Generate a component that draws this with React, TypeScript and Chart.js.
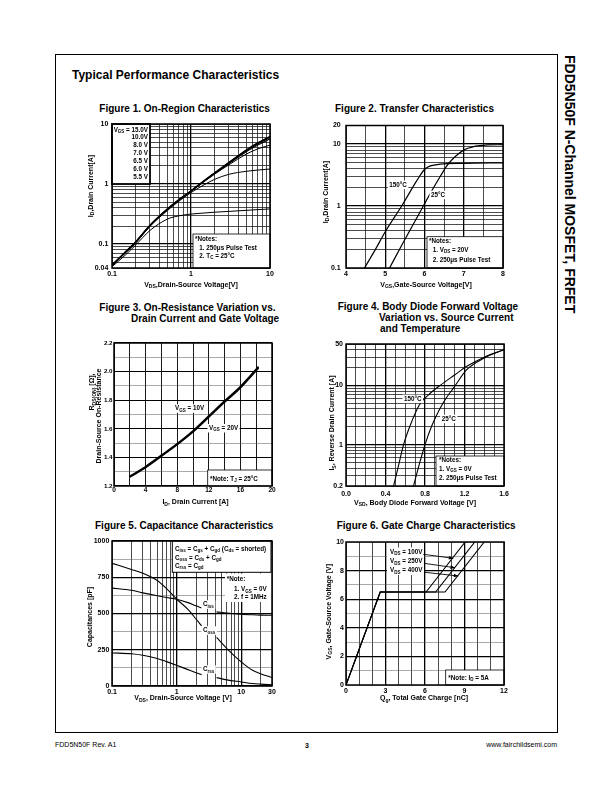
import React, { useEffect, useRef } from "react";
import { Chart, registerables } from "chart.js";
Chart.register(...registerables);

const FONT = '"Liberation Sans", Arial, Helvetica, sans-serif';
const ML = 50, MT = 8, MR = 10, MB = 24;

// ---------------- Figure 1: On-Region Characteristics ----------------
const F1_VDS = [0.1, 0.15, 0.2, 0.3, 0.5, 0.7, 1, 1.5, 2, 3, 5, 7, 10];
const F1_ID_15V = [0.045, 0.076, 0.11, 0.205, 0.385, 0.55, 0.775, 1.17, 1.55, 2.28, 3.7, 4.85, 6.25];
const F1_ID_10V = [0.045, 0.075, 0.109, 0.203, 0.382, 0.547, 0.77, 1.16, 1.54, 2.26, 3.66, 4.8, 6.15];
const F1_ID_8V = [0.044, 0.074, 0.108, 0.201, 0.378, 0.542, 0.765, 1.15, 1.52, 2.22, 3.58, 4.66, 5.95];
const F1_ID_7V = [0.044, 0.074, 0.107, 0.2, 0.375, 0.538, 0.76, 1.14, 1.5, 2.17, 3.45, 4.45, 5.65];
const F1_ID_6V5 = [0.044, 0.073, 0.106, 0.198, 0.372, 0.533, 0.752, 1.12, 1.47, 2.08, 3.15, 3.85, 4.45];
const F1_ID_6V = [0.044, 0.073, 0.105, 0.195, 0.36, 0.515, 0.72, 0.99, 1.2, 1.45, 1.63, 1.71, 1.78];
const F1_ID_5V5 = [0.042, 0.067, 0.097, 0.167, 0.26, 0.295, 0.316, 0.33, 0.34, 0.35, 0.365, 0.375, 0.385];
const F1_X_LABELS = [0.1, 1, 10];
const F1_Y_LABELS = [0.04, 0.1, 1, 10];
const F1_LEGEND = ["V_{GS} = 15.0V", "10.0V", "8.0 V", "7.0 V", "6.5 V", "6.0 V", "5.5 V"];

// ---------------- Figure 2: Transfer Characteristics ----------------
const F2_VGS_150C = [4.47, 4.75, 5.0, 5.43, 5.8, 6.0, 6.15, 6.4, 7.0, 8.0];
const F2_ID_150C = [0.1, 0.2, 0.385, 1.03, 2.55, 3.9, 4.45, 4.75, 4.9, 5.0];
const F2_VGS_25C = [5.11, 5.43, 5.98, 6.2, 6.4, 6.55, 6.7, 7.0, 7.3, 7.6, 8.0];
const F2_ID_25C = [0.1, 0.24, 1.03, 1.83, 3.0, 4.3, 5.6, 8.0, 9.3, 9.7, 9.8];
const F2_X_LABELS = [4, 5, 6, 7, 8];
const F2_Y_LABELS = [0.1, 1, 10, 20];

// ---------------- Figure 3: On-Resistance ----------------
const F3_ID = [2, 4, 6, 8, 10, 12, 14, 16, 18.3];
const F3_R_10V = [1.268, 1.336, 1.415, 1.496, 1.586, 1.69, 1.795, 1.895, 2.035];
const F3_R_20V = [1.262, 1.329, 1.408, 1.489, 1.578, 1.681, 1.786, 1.886, 2.025];
const F3_X_LABELS = [0, 4, 8, 12, 16, 20];
const F3_Y_LABELS = [1.2, 1.4, 1.6, 1.8, 2.0, 2.2];

// ---------------- Figure 4: Body Diode ----------------
const F4_VSD_150C = [0.482, 0.53, 0.583, 0.65, 0.744, 0.85, 0.953, 1.1, 1.223, 1.4, 1.6];
const F4_IS_150C = [0.2, 0.43, 1.0, 2.1, 4.7, 7.3, 10, 15, 21, 30, 40];
const F4_VSD_25C = [0.684, 0.74, 0.8, 0.87, 0.953, 1.02, 1.088, 1.223, 1.4, 1.6];
const F4_IS_25C = [0.2, 0.45, 1.0, 2.1, 4.1, 6.3, 9.0, 18.4, 29, 40];
const F4_X_LABELS = [0, 0.4, 0.8, 1.2, 1.6];
const F4_Y_LABELS = [0.2, 1, 10, 50];

// ---------------- Figure 5: Capacitance ----------------
const F5_VDS = [0.1, 0.2, 0.3, 0.5, 0.7, 1, 1.5, 2, 2.44, 3.2, 4.16, 6, 10, 15, 20, 30];
const F5_CISS = [675, 660, 642, 622, 610, 598, 575, 553, 538, null, 511, 503, 495, 491, 489, 488];
const F5_COSS = [846, 804, 778, 728, 672, 600, 528, 462, 415, null, 335, 258, 166, 108, 85, 58];
const F5_CRSS = [228, 222, 212, 190, 168, 143, 113, 92, 78, null, 58, 42, 28, 17, 13, 9];
const F5_X_LABELS = [0.1, 1, 10, 30];
const F5_Y_LABELS = [0, 250, 500, 750, 1000];

// ---------------- Figure 6: Gate Charge ----------------
const F6_VGS = [0, 6.5, 6.5, 10];
const F6_QG_100V = [0, 2.6, 6.08, 9.05];
const F6_QG_250V = [0, 2.6, 6.81, 9.78];
const F6_QG_400V = [0, 2.6, 7.52, 10.5];
const F6_X_LABELS = [0, 3, 6, 9, 12];
const F6_Y_LABELS = [0, 2, 4, 6, 8, 10];

// ---------------- helpers ----------------
const near = (a: number, b: number) => Math.abs(a - b) <= 1e-6 * Math.max(1, Math.abs(a), Math.abs(b));
function logGrid(min: number, max: number): number[] {
  const out: number[] = [];
  for (let e = Math.floor(Math.log10(min)) - 1; e <= Math.ceil(Math.log10(max)); e++) {
    for (let k = 1; k <= 9; k++) {
      const v = Number((k * Math.pow(10, e)).toPrecision(6));
      if (v >= min * (1 - 1e-9) && v <= max * (1 + 1e-9)) out.push(v);
    }
  }
  return out;
}
function linGrid(min: number, max: number, step: number): number[] {
  const n = Math.round((max - min) / step);
  const out: number[] = [];
  for (let i = 0; i <= n; i++) out.push(Number((min + i * step).toPrecision(8)));
  return out;
}

type Seg = { t: string; sub?: boolean; sup?: boolean };
function parseRich(s: string): Seg[] {
  const out: Seg[] = [];
  const re = /([_^])\{([^}]*)\}/g;
  let last = 0;
  let m: RegExpExecArray | null;
  while ((m = re.exec(s))) {
    if (m.index > last) out.push({ t: s.slice(last, m.index) });
    out.push({ t: m[2], sub: m[1] === "_", sup: m[1] === "^" });
    last = re.lastIndex;
  }
  if (last < s.length) out.push({ t: s.slice(last) });
  return out;
}
const fnt = (sz: number, bold: boolean) => `${bold ? "bold " : ""}${sz}px ${FONT}`;
function measureRich(ctx: CanvasRenderingContext2D, s: string, size: number, bold = true) {
  let w = 0;
  for (const sg of parseRich(s)) {
    ctx.font = fnt(sg.sub || sg.sup ? size * 0.72 : size, bold);
    w += ctx.measureText(sg.t).width;
  }
  return w;
}
function drawRich(ctx: CanvasRenderingContext2D, s: string, x: number, y: number, size: number, align: string = "left", rot = 0, bold = true) {
  const w = measureRich(ctx, s, size, bold);
  ctx.save();
  ctx.translate(x, y);
  if (rot) ctx.rotate(rot);
  let cx = align === "left" ? 0 : align === "center" ? -w / 2 : -w;
  ctx.textBaseline = "alphabetic";
  ctx.textAlign = "left";
  ctx.fillStyle = "#000";
  for (const sg of parseRich(s)) {
    const sz = sg.sub || sg.sup ? size * 0.72 : size;
    ctx.font = fnt(sz, bold);
    const dy = sg.sub ? size * 0.22 : sg.sup ? -size * 0.4 : 0;
    ctx.fillText(sg.t, cx, dy);
    cx += ctx.measureText(sg.t).width;
  }
  ctx.restore();
  return w;
}

type AxisSpec = {
  type: "linear" | "logarithmic";
  min: number; max: number;
  grid: number[]; labels: number[]; major: number[];
  fmt: (v: number) => string;
  pad: number;
  tickSize?: number;
  minorColor?: string; minorWidth?: number; majorWidth?: number;
};
type Ann =
  | { kind: "box"; x0: number; y0: number; x1: number; y1: number; border: number }
  | { kind: "text"; x: number; y: number; s: string; align?: string; size?: number; bg?: boolean }
  | { kind: "arrow"; from: [number, number]; to: [number, number] };
type Series = { x: number[]; y: (number | null)[]; w: number; straight?: boolean };
type Title = { s: string; x: number; y: number };
type Fig = {
  rect: { l: number; t: number; r: number; b: number };
  x: AxisSpec; y: AxisSpec;
  series: Series[];
  xTitle: Title; yTitles: Title[];
  anns: Ann[];
};

const fmtPlain = (v: number) => String(v);
const fmt1 = (v: number) => v.toFixed(1);
const ANN = 6.3;

// ---------------- figure specs ----------------
const FIG1: Fig = {
  rect: { l: 112, t: 124, r: 270, b: 268 },
  x: { type: "logarithmic", min: 0.1, max: 10, grid: logGrid(0.1, 10), labels: F1_X_LABELS, major: [1], fmt: fmtPlain, pad: 2.1 },
  y: { type: "logarithmic", min: 0.04, max: 10, grid: logGrid(0.04, 10), labels: F1_Y_LABELS, major: [0.1, 1], fmt: fmtPlain, pad: 3.7 },
  series: [
    { x: F1_VDS, y: F1_ID_15V, w: 1.2 },
    { x: F1_VDS, y: F1_ID_10V, w: 1.2 },
    { x: F1_VDS, y: F1_ID_8V, w: 1.2 },
    { x: F1_VDS, y: F1_ID_7V, w: 1.1 },
    { x: F1_VDS, y: F1_ID_6V5, w: 1 },
    { x: F1_VDS, y: F1_ID_6V, w: 1 },
    { x: F1_VDS, y: F1_ID_5V5, w: 1 },
  ],
  xTitle: { s: "V_{DS},Drain-Source Voltage[V]", x: 191, y: 286.5 },
  yTitles: [{ s: "I_{D},Drain Current[A]", x: 90, y: 186 }],
  anns: [
    { kind: "box", x0: 112, y0: 124, x1: 150, y1: 184, border: 1.8 },
    ...F1_LEGEND.map((s, i) => ({ kind: "text" as const, x: 148, y: 131.5 + 7.9 * i, s, align: "right" })),
    { kind: "box", x0: 193, y0: 234, x1: 270, y1: 268, border: 0.8 },
    { kind: "text", x: 195, y: 241.3, s: "*Notes:" },
    { kind: "text", x: 199.3, y: 249.5, s: "1. 250\u03bcs Pulse Test" },
    { kind: "text", x: 199.3, y: 258, s: "2. T_{C} = 25\u00b0C" },
  ],
};

const FIG2: Fig = {
  rect: { l: 346, t: 124, r: 503, b: 268 },
  x: { type: "linear", min: 4, max: 8, grid: linGrid(4, 8, 0.5), labels: F2_X_LABELS, major: [5, 6, 7], fmt: fmtPlain, pad: 2.1 },
  y: { type: "logarithmic", min: 0.1, max: 20, grid: logGrid(0.1, 20), labels: F2_Y_LABELS, major: [1, 10], fmt: fmtPlain, pad: 5.3 },
  series: [
    { x: F2_VGS_150C, y: F2_ID_150C, w: 1.2 },
    { x: F2_VGS_25C, y: F2_ID_25C, w: 1.2 },
  ],
  xTitle: { s: "V_{GS},Gate-Source Voltage[V]", x: 426, y: 286.5 },
  yTitles: [{ s: "I_{D},Drain Current[A]", x: 325, y: 192 }],
  anns: [
    { kind: "box", x0: 427, y0: 236.7, x1: 503, y1: 268, border: 0.8 },
    { kind: "text", x: 429, y: 243.3, s: "*Notes:" },
    { kind: "text", x: 432.7, y: 251.5, s: "1. V_{DS} = 20V" },
    { kind: "text", x: 432.7, y: 261.5, s: "2. 250\u03bcs Pulse Test" },
    { kind: "text", x: 389.3, y: 186.6, s: "150\u00b0C", bg: true },
    { kind: "text", x: 431, y: 196.6, s: "25\u00b0C", bg: true },
  ],
};

const FIG3: Fig = {
  rect: { l: 114, t: 343, r: 272, b: 486 },
  x: { type: "linear", min: 0, max: 20, grid: linGrid(0, 20, 2), labels: F3_X_LABELS, major: linGrid(0, 20, 2), fmt: fmtPlain, pad: 0.8, tickSize: 6.5, majorWidth: 0.9 },
  y: { type: "linear", min: 1.2, max: 2.2, grid: linGrid(1.2, 2.2, 0.1), labels: F3_Y_LABELS, major: F3_Y_LABELS, fmt: fmt1, pad: 1.5, tickSize: 6.2, majorWidth: 1.1, minorColor: "#555", minorWidth: 0.5 },
  series: [
    { x: F3_ID, y: F3_R_10V, w: 1.6 },
    { x: F3_ID, y: F3_R_20V, w: 1.6 },
  ],
  xTitle: { s: "I_{D}, Drain Current [A]", x: 195.5, y: 504 },
  yTitles: [
    { s: "R_{DS(ON)} [\u03a9],", x: 91.5, y: 392 },
    { s: "Drain-Source On-Resistance", x: 98.5, y: 416 },
  ],
  anns: [
    { kind: "text", x: 175, y: 410.3, s: "V_{GS} = 10V", bg: true },
    { kind: "text", x: 209, y: 430, s: "V_{GS} = 20V", bg: true },
    { kind: "box", x0: 207.7, y0: 470, x1: 272, y1: 486, border: 0.8 },
    { kind: "text", x: 210, y: 480.5, s: "*Note: T_{J} = 25\u00b0C" },
  ],
};

const FIG4: Fig = {
  rect: { l: 346, t: 344, r: 504, b: 486 },
  x: { type: "linear", min: 0, max: 1.6, grid: linGrid(0, 1.6, 0.1), labels: F4_X_LABELS, major: [0.4, 0.8, 1.2], fmt: fmt1, pad: 3.8 },
  y: { type: "logarithmic", min: 0.2, max: 50, grid: logGrid(0.2, 50), labels: F4_Y_LABELS, major: [1, 10], fmt: fmtPlain, pad: 3 },
  series: [
    { x: F4_VSD_150C, y: F4_IS_150C, w: 1.1 },
    { x: F4_VSD_25C, y: F4_IS_25C, w: 1.1 },
  ],
  xTitle: { s: "V_{SD}, Body Diode Forward Voltage [V]", x: 415, y: 504.5 },
  yTitles: [{ s: "I_{S}, Reverse Drain Current [A]", x: 331.5, y: 423 }],
  anns: [
    { kind: "text", x: 404, y: 400.6, s: "150\u00b0C", bg: true },
    { kind: "text", x: 441.7, y: 420.6, s: "25\u00b0C", bg: true },
    { kind: "box", x0: 436, y0: 456, x1: 504, y1: 486, border: 0.8 },
    { kind: "text", x: 439, y: 462.3, s: "*Notes:" },
    { kind: "text", x: 439, y: 470.5, s: "1. V_{GS} = 0V" },
    { kind: "text", x: 439, y: 480.2, s: "2. 250\u03bcs Pulse Test" },
  ],
};

const FIG5: Fig = {
  rect: { l: 112, t: 541, r: 272, b: 686 },
  x: { type: "logarithmic", min: 0.1, max: 30, grid: logGrid(0.1, 30), labels: F5_X_LABELS, major: [1, 10], fmt: fmtPlain, pad: 1.5 },
  y: { type: "linear", min: 0, max: 1000, grid: linGrid(0, 1000, 125), labels: F5_Y_LABELS, major: F5_Y_LABELS, fmt: fmtPlain, pad: 2.7, minorColor: "#555", minorWidth: 0.5 },
  series: [
    { x: F5_VDS, y: F5_CISS, w: 1.1 },
    { x: F5_VDS, y: F5_COSS, w: 1.1 },
    { x: F5_VDS, y: F5_CRSS, w: 1.1 },
  ],
  xTitle: { s: "V_{DS}, Drain-Source Voltage [V]", x: 183, y: 700 },
  yTitles: [{ s: "Capacitances [pF]", x: 89, y: 617 }],
  anns: [
    { kind: "box", x0: 172.3, y0: 541, x1: 271, y1: 572.3, border: 1 },
    { kind: "text", x: 175, y: 550.6, s: "C_{iss} = C_{gs} + C_{gd} (C_{ds} = shorted)" },
    { kind: "text", x: 175, y: 559.6, s: "C_{oss} = C_{ds} + C_{gd}" },
    { kind: "text", x: 175, y: 567.8, s: "C_{rss} = C_{gd}" },
    { kind: "box", x0: 225, y0: 573.5, x1: 272, y1: 602, border: 0 },
    { kind: "text", x: 226.7, y: 580.6, s: "*Note:" },
    { kind: "text", x: 234, y: 591.3, s: "1. V_{GS} = 0V" },
    { kind: "text", x: 234, y: 599.3, s: "2. f = 1MHz" },
    { kind: "text", x: 203, y: 606.3, s: "C_{iss}", bg: true },
    { kind: "text", x: 203, y: 632.3, s: "C_{oss}", bg: true },
    { kind: "text", x: 203, y: 671.3, s: "C_{rss}", bg: true },
  ],
};

const FIG6: Fig = {
  rect: { l: 346, t: 542, r: 504, b: 685 },
  x: { type: "linear", min: 0, max: 12, grid: linGrid(0, 12, 1), labels: F6_X_LABELS, major: [3, 6, 9], fmt: fmtPlain, pad: 1.5 },
  y: { type: "linear", min: 0, max: 10, grid: linGrid(0, 10, 1), labels: F6_Y_LABELS, major: [2, 4, 6, 8], fmt: fmtPlain, pad: 2, minorColor: "#555", minorWidth: 0.5 },
  series: [
    { x: F6_QG_100V, y: F6_VGS, w: 1.1, straight: true },
    { x: F6_QG_250V, y: F6_VGS, w: 1.1, straight: true },
    { x: F6_QG_400V, y: F6_VGS, w: 1.1, straight: true },
  ],
  xTitle: { s: "Q_{g}, Total Gate Charge [nC]", x: 424, y: 700 },
  yTitles: [{ s: "V_{GS}, Gate-Source Voltage [V]", x: 328.3, y: 611.7 }],
  anns: [
    { kind: "box", x0: 387, y0: 547.5, x1: 424, y1: 575, border: 0 },
    { kind: "text", x: 390, y: 554, s: "V_{DS} = 100V" },
    { kind: "text", x: 390, y: 563.2, s: "V_{DS} = 250V" },
    { kind: "text", x: 390, y: 572.4, s: "V_{DS} = 400V" },
    { kind: "arrow", from: [5.87, 9.14], to: [8.15, 8.86] },
    { kind: "arrow", from: [5.92, 8.51], to: [8.28, 8.2] },
    { kind: "arrow", from: [6.0, 7.88], to: [8.53, 7.62] },
    { kind: "box", x0: 445.7, y0: 670, x1: 504, y1: 685, border: 0.8 },
    { kind: "text", x: 448.3, y: 680, s: "*Note: I_{D} = 5A" },
  ],
};

const FIGS = [FIG1, FIG2, FIG3, FIG4, FIG5, FIG6];

// ---------------- chart building ----------------
function axisOpts(spec: AxisSpec, pos: "x" | "y") {
  const isMaj = (v: number) => spec.major.some((m) => near(m, v));
  return {
    type: spec.type,
    position: pos === "x" ? "bottom" : "left",
    min: spec.min,
    max: spec.max,
    afterBuildTicks: (s: any) => {
      s.ticks = spec.grid.map((v) => ({ value: v }));
    },
    afterFit: (s: any) => {
      if (pos === "x") s.height = MB;
      else s.width = ML;
    },
    ticks: {
      autoSkip: false,
      maxRotation: 0,
      minRotation: 0,
      padding: spec.pad,
      color: "#000",
      font: { family: FONT, size: spec.tickSize ?? 7, weight: "bold" },
      callback: (v: any) => {
        const n = Number(v);
        return spec.labels.some((l) => near(l, n)) ? spec.fmt(n) : "";
      },
    },
    grid: {
      drawTicks: false,
      color: (c: any) => (c.tick && isMaj(c.tick.value) ? "#000" : spec.minorColor ?? "#111"),
      lineWidth: (c: any) => (c.tick && isMaj(c.tick.value) ? spec.majorWidth ?? 1.3 : spec.minorWidth ?? 0.75),
    },
    border: { display: false },
    title: { display: false },
  };
}

function annotPlugin(fig: Fig, ox: number, oy: number) {
  return {
    id: "annot",
    afterDatasetsDraw(chart: any) {
      const ctx: CanvasRenderingContext2D = chart.ctx;
      const a = chart.chartArea;
      const xs = chart.scales.x, ys = chart.scales.y;
      ctx.save();
      for (const an of fig.anns) {
        if (an.kind === "box") {
          ctx.fillStyle = "#fff";
          ctx.fillRect(an.x0 - ox, an.y0 - oy, an.x1 - an.x0, an.y1 - an.y0);
          if (an.border > 0) {
            ctx.lineWidth = an.border;
            ctx.strokeStyle = "#000";
            ctx.strokeRect(an.x0 - ox, an.y0 - oy, an.x1 - an.x0, an.y1 - an.y0);
          }
        }
      }
      for (const an of fig.anns) {
        if (an.kind === "text") {
          const size = an.size ?? ANN;
          const x = an.x - ox, y = an.y - oy;
          if (an.bg) {
            const w = measureRich(ctx, an.s, size);
            const left = an.align === "right" ? x - w : an.align === "center" ? x - w / 2 : x;
            ctx.fillStyle = "#fff";
            ctx.fillRect(left - 1.5, y - size * 0.95, w + 3, size * 1.35);
          }
          drawRich(ctx, an.s, x, y, size, an.align ?? "left");
        } else if (an.kind === "arrow") {
          const x0 = xs.getPixelForValue(an.from[0]), y0 = ys.getPixelForValue(an.from[1]);
          const x1 = xs.getPixelForValue(an.to[0]), y1 = ys.getPixelForValue(an.to[1]);
          ctx.strokeStyle = "#000";
          ctx.lineWidth = 0.9;
          ctx.beginPath();
          ctx.moveTo(x0, y0);
          ctx.lineTo(x1, y1);
          ctx.stroke();
          const ang = Math.atan2(y1 - y0, x1 - x0);
          const L = 4.5, Wd = 1.8;
          ctx.fillStyle = "#000";
          ctx.beginPath();
          ctx.moveTo(x1, y1);
          ctx.lineTo(x1 - L * Math.cos(ang) + Wd * Math.sin(ang), y1 - L * Math.sin(ang) - Wd * Math.cos(ang));
          ctx.lineTo(x1 - L * Math.cos(ang) - Wd * Math.sin(ang), y1 - L * Math.sin(ang) + Wd * Math.cos(ang));
          ctx.closePath();
          ctx.fill();
        }
      }
      // plot frame
      ctx.strokeStyle = "#000";
      ctx.lineWidth = 1.5;
      ctx.strokeRect(a.left, a.top, a.right - a.left, a.bottom - a.top);
      // axis titles
      drawRich(ctx, fig.xTitle.s, fig.xTitle.x - ox, fig.xTitle.y - oy, 7, "center");
      for (const t of fig.yTitles) {
        drawRich(ctx, t.s, t.x - ox + 2.5, t.y - oy, 7, "center", -Math.PI / 2);
      }
      ctx.restore();
    },
  };
}

function FigChart({ fig }: { fig: Fig }) {
  const ref = useRef<HTMLCanvasElement>(null);
  const ox = fig.rect.l - ML, oy = fig.rect.t - MT;
  const W = fig.rect.r - fig.rect.l + ML + MR;
  const H = fig.rect.b - fig.rect.t + MT + MB;
  useEffect(() => {
    if (!ref.current) return;
    const chart = new Chart(ref.current, {
      type: "line",
      data: {
        datasets: fig.series.map((s) => ({
          data: s.x.map((x, i) => ({ x, y: s.y[i] })),
          borderColor: "#000",
          borderWidth: s.w,
          pointRadius: 0,
          pointHoverRadius: 0,
          fill: false,
          spanGaps: false,
          tension: 0,
          cubicInterpolationMode: s.straight ? "default" : "monotone",
        })),
      } as any,
      options: {
        responsive: false,
        animation: false,
        devicePixelRatio: 1,
        events: [],
        layout: { padding: { top: MT, right: MR, left: 0, bottom: 0 } },
        plugins: { legend: { display: false }, tooltip: { enabled: false }, title: { display: false } },
        scales: { x: axisOpts(fig.x, "x"), y: axisOpts(fig.y, "y") } as any,
      } as any,
      plugins: [annotPlugin(fig, ox, oy)],
    });
    return () => chart.destroy();
  }, []);
  return (
    <canvas
      ref={ref}
      width={W}
      height={H}
      style={{ position: "absolute", left: ox, top: oy, width: W, height: H }}
    />
  );
}

function Txt(p: { x?: number; right?: number; cx?: number; base: number; size: number; bold?: boolean; children: React.ReactNode }) {
  const style: React.CSSProperties = {
    position: "absolute",
    top: p.base - 0.8465 * p.size,
    fontFamily: FONT,
    fontSize: p.size,
    lineHeight: `${p.size}px`,
    fontWeight: p.bold ? "bold" : "normal",
    whiteSpace: "nowrap",
    color: "#000",
  };
  if (p.x !== undefined) style.left = p.x;
  if (p.right !== undefined) style.right = 612 - p.right;
  if (p.cx !== undefined) {
    style.left = p.cx;
    style.transform = "translateX(-50%)";
  }
  return <div style={style}>{p.children}</div>;
}

export default function App() {
  return (
    <div style={{ position: "absolute", left: 0, top: 0, width: 612, height: 792, background: "#fff", overflow: "hidden" }}>
      <div style={{ position: "absolute", left: 55, top: 54, width: 503, height: 679, border: "1px solid #000", boxSizing: "border-box" }} />
      <Txt x={72} base={79} size={12} bold>Typical Performance Characteristics</Txt>

      <Txt x={99.3} base={112.6} size={10} bold>Figure 1. On-Region Characteristics</Txt>
      <Txt x={335} base={112.6} size={10} bold>Figure 2. Transfer Characteristics</Txt>
      <Txt x={99.3} base={311.8} size={10} bold>Figure 3. On-Resistance Variation vs.</Txt>
      <Txt x={131} base={322} size={10} bold>Drain Current and Gate Voltage</Txt>
      <Txt x={337.7} base={310.8} size={10} bold>Figure 4. Body Diode Forward Voltage</Txt>
      <Txt x={379} base={321.6} size={10} bold>Variation vs. Source Current</Txt>
      <Txt x={380} base={332} size={10} bold>and Temperature</Txt>
      <Txt x={95} base={529.6} size={10} bold>Figure 5. Capacitance Characteristics</Txt>
      <Txt x={336.7} base={529.6} size={10} bold>Figure 6. Gate Charge Characteristics</Txt>

      {FIGS.map((f, i) => (
        <FigChart key={i} fig={f} />
      ))}

      <div
        style={{
          position: "absolute",
          left: 576.85,
          top: 55,
          transform: "rotate(90deg)",
          transformOrigin: "0 0",
          fontFamily: FONT,
          fontSize: 14,
          lineHeight: "14px",
          fontWeight: "bold",
          whiteSpace: "nowrap",
        }}
      >
        FDD5N50F N-Channel MOSFET, FRFET
      </div>

      <Txt x={55} base={747} size={7}>FDD5N50F Rev. A1</Txt>
      <Txt cx={307} base={747.5} size={7} bold>3</Txt>
      <Txt right={557} base={747} size={7}>www.fairchildsemi.com</Txt>
    </div>
  );
}
